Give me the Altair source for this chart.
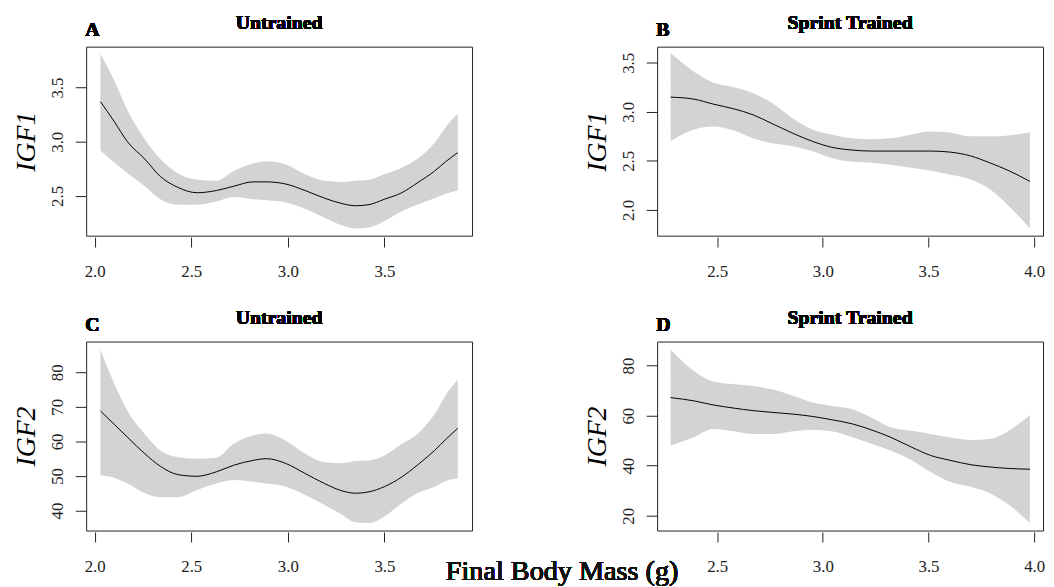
import altair as alt
import pandas as pd

FONT = "Liberation Serif"
INK = "#222222"
BAND = "#D3D3D3"

# ---------------- Panel A: IGF1, Untrained ----------------
a_mass = [2.03, 2.10, 2.17, 2.26, 2.34, 2.43, 2.53, 2.63, 2.72, 2.82, 2.89, 2.99,
          3.09, 3.19, 3.28, 3.35, 3.42, 3.50, 3.59, 3.67, 3.76, 3.82, 3.88]
a_fit = [3.37, 3.19, 3.00, 2.84, 2.68, 2.58, 2.53, 2.55, 2.59, 2.63, 2.63, 2.61,
         2.55, 2.48, 2.43, 2.41, 2.42, 2.47, 2.53, 2.62, 2.73, 2.82, 2.90]
a_upper = [3.81, 3.57, 3.29, 3.02, 2.84, 2.71, 2.65, 2.64, 2.73, 2.80, 2.82, 2.79,
           2.70, 2.64, 2.63, 2.64, 2.65, 2.70, 2.76, 2.84, 2.99, 3.14, 3.26]
a_lower = [2.92, 2.81, 2.71, 2.59, 2.47, 2.42, 2.42, 2.45, 2.49, 2.47, 2.46, 2.44,
           2.38, 2.30, 2.23, 2.20, 2.21, 2.27, 2.36, 2.42, 2.48, 2.52, 2.55]

# ---------------- Panel B: IGF1, Sprint Trained ----------------
b_mass = [2.28, 2.39, 2.48, 2.58, 2.67, 2.76, 2.86, 2.95, 3.04, 3.14, 3.23, 3.32,
          3.42, 3.51, 3.60, 3.70, 3.79, 3.88, 3.98]
b_fit = [3.15, 3.13, 3.08, 3.03, 2.97, 2.88, 2.78, 2.70, 2.64, 2.61, 2.60, 2.60,
         2.60, 2.60, 2.59, 2.55, 2.48, 2.40, 2.29]
b_upper = [3.60, 3.41, 3.30, 3.25, 3.19, 3.09, 2.93, 2.82, 2.77, 2.73, 2.72, 2.73,
           2.77, 2.80, 2.79, 2.75, 2.75, 2.76, 2.79]
b_lower = [2.70, 2.82, 2.85, 2.81, 2.73, 2.68, 2.65, 2.60, 2.53, 2.49, 2.48, 2.46,
           2.43, 2.40, 2.36, 2.31, 2.21, 2.04, 1.81]

# ---------------- Panel C: IGF2, Untrained ----------------
c_mass = a_mass
c_fit = [68.8, 65.0, 61.2, 56.4, 52.8, 50.4, 49.9, 51.2, 53.1, 54.5, 55.0, 53.6,
         50.7, 47.8, 45.7, 45.0, 45.4, 46.9, 49.7, 53.1, 57.4, 60.7, 63.8]
c_upper = [86.5, 76.9, 68.8, 62.1, 57.4, 55.5, 55.0, 55.3, 59.3, 61.7, 62.3, 60.2,
           56.4, 54.0, 53.7, 54.3, 54.5, 55.9, 59.3, 62.1, 67.9, 73.6, 77.9]
c_lower = [50.2, 49.5, 47.8, 45.0, 43.8, 43.8, 45.9, 47.8, 48.8, 48.3, 47.8, 46.9,
           44.5, 41.6, 38.8, 36.6, 36.4, 38.3, 42.1, 45.0, 46.9, 48.6, 49.3]

# ---------------- Panel D: IGF2, Sprint Trained ----------------
d_mass = b_mass
d_fit = [67.2, 65.9, 64.3, 63.0, 62.0, 61.3, 60.6, 59.7, 58.4, 56.7, 54.3, 51.4,
         47.4, 44.1, 42.2, 40.4, 39.5, 38.9, 38.6]
d_upper = [86.4, 77.8, 73.6, 72.5, 71.8, 70.5, 67.9, 65.2, 63.9, 62.6, 59.3, 55.4,
           54.0, 52.7, 51.4, 50.3, 50.7, 54.0, 60.2]
d_lower = [48.1, 51.4, 54.7, 53.8, 52.7, 52.7, 53.8, 54.4, 53.8, 51.4, 48.8, 46.1,
           42.2, 37.5, 33.6, 31.6, 29.0, 24.4, 17.1]

# axis ranges and ticks
ax_dom_untrained = [1.956, 3.954]
ax_dom_trained = [2.216, 4.042]
x_ticks_untrained = [2.0, 2.5, 3.0, 3.5]
x_ticks_trained = [2.5, 3.0, 3.5, 4.0]
a_ydom, b_ydom, c_ydom, d_ydom = [2.134, 3.877], [1.737, 3.665], [34.2, 88.9], [14.1, 89.6]
a_yticks = [2.5, 3.0, 3.5]
b_yticks = [2.0, 2.5, 3.0, 3.5]
c_yticks = [40, 50, 60, 70, 80]
d_yticks = [20, 30, 40, 50, 60, 70, 80]

W, H = 390, 191


def panel(mass, fit, upper, lower, xdom, ydom, xticks, yticks, ytitle, yfmt,
          letter, title, label_expr=None, xtitle=None):
    df = pd.DataFrame({"mass": mass, "fit": fit, "upper": upper, "lower": lower})
    xaxis = alt.Axis(values=xticks, format=".1f", domain=False, grid=False,
                     tickSize=10, offset=1.5, tickColor=INK, labelColor=INK,
                     labelFont=FONT, labelFontSize=17, labelPadding=30,
                     labelBaseline="alphabetic", title=None)
    yargs = dict(values=yticks, format=yfmt, domain=False, grid=False,
                 tickSize=11, tickColor=INK, labelColor=INK, labelFont=FONT,
                 labelFontSize=17, labelAngle=270, labelAlign="center",
                 labelBaseline="alphabetic", labelPadding=13,
                 title=ytitle, titleFont=FONT, titleFontSize=28,
                 titleFontStyle="italic", titleFontWeight="normal",
                 titleColor="black", titleAngle=270, titleAlign="center",
                 titleBaseline="bottom", titleX=-46, titleY=H / 2)
    if label_expr:
        yargs["labelExpr"] = label_expr
    yaxis = alt.Axis(**yargs)
    xs = alt.Scale(domain=xdom, nice=False, zero=False)
    ys = alt.Scale(domain=ydom, nice=False, zero=False)

    band = alt.Chart(df).mark_area(color=BAND, opacity=1, interpolate="monotone").encode(
        x=alt.X("mass:Q", scale=xs, axis=xaxis),
        y=alt.Y("lower:Q", scale=ys, axis=yaxis),
        y2="upper:Q",
    )
    line = alt.Chart(df).mark_line(color="black", strokeWidth=1, interpolate="monotone").encode(
        x="mass:Q", y="fit:Q"
    )
    let = alt.Chart(df).mark_text(text=letter, font=FONT, fontSize=20, fontWeight="bold",
                                  align="left", baseline="alphabetic", color="black").encode(
        x=alt.value(-1), y=alt.value(-10.5)
    )
    ttl = alt.Chart(df).mark_text(text=title, font=FONT, fontSize=20, fontWeight="bold",
                                  align="center", baseline="alphabetic", color="black").encode(
        x=alt.value(W / 2), y=alt.value(-17.5)
    )
    layers = [band, line, let, ttl]
    if xtitle:
        layers.append(
            alt.Chart(df).mark_text(text=xtitle, font=FONT, fontSize=28.5, fontWeight="normal",
                                    align="center", baseline="alphabetic", color="#111111").encode(
                x=alt.value(481), y=alt.value(H + 50)
            )
        )
    return alt.layer(*layers).properties(width=W, height=H)


pA = panel(a_mass, a_fit, a_upper, a_lower, ax_dom_untrained, a_ydom, x_ticks_untrained,
           a_yticks, "IGF1", ".1f", "A", "Untrained")
pB = panel(b_mass, b_fit, b_upper, b_lower, ax_dom_trained, b_ydom, x_ticks_trained,
           b_yticks, "IGF1", ".1f", "B", "Sprint Trained")
pC = panel(c_mass, c_fit, c_upper, c_lower, ax_dom_untrained, c_ydom, x_ticks_untrained,
           c_yticks, "IGF2", "d", "C", "Untrained", xtitle="Final Body Mass (g)")
pD = panel(d_mass, d_fit, d_upper, d_lower, ax_dom_trained, d_ydom, x_ticks_trained,
           d_yticks, "IGF2", "d", "D", "Sprint Trained",
           label_expr="datum.value % 20 == 0 ? datum.label : ''")

chart = alt.concat(pA, pB, pC, pD, columns=2,
                   spacing={"row": 107, "column": 187}, bounds="flush").properties(
    padding={"left": 4, "top": 2, "right": 0, "bottom": 0},
    background="white",
).configure_view(stroke=INK, strokeWidth=1)

chart.save("out.html", embed_options={"renderer": "svg", "actions": False})
